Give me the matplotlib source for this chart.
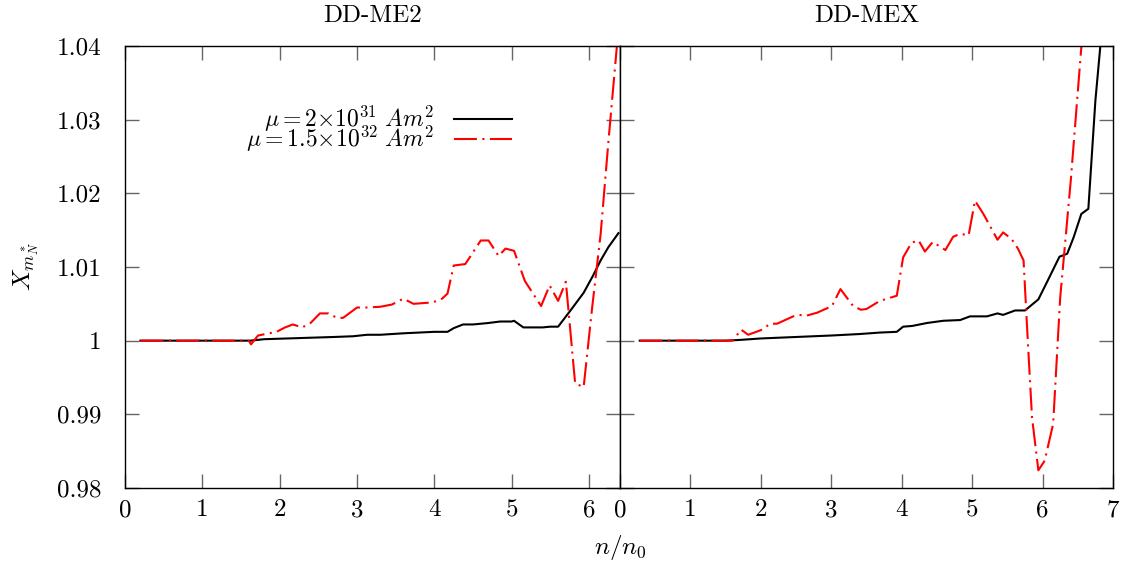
import matplotlib
matplotlib.use('Agg')
import matplotlib.pyplot as plt

plt.rcParams['font.family'] = 'serif'
plt.rcParams['font.serif'] = ['cmr10', 'DejaVu Serif']
plt.rcParams['mathtext.fontset'] = 'cm'
plt.rcParams['axes.unicode_minus'] = False

# DD-ME2, mu = 2e31
me2_x1 = [0.2, 0.5, 1.0, 1.5, 1.62, 1.8, 2.1, 2.4, 2.7, 2.95, 3.13, 3.3, 3.6, 3.8, 4.0,
          4.17, 4.25, 4.37, 4.5, 4.7, 4.85, 5.0, 5.03, 5.15, 5.3, 5.4, 5.5, 5.6, 5.76,
          5.93, 6.05, 6.15, 6.25, 6.38]
me2_y1 = [1, 1, 1, 1, 1, 1.0002, 1.0003, 1.0004, 1.0005, 1.0006, 1.0008, 1.0008, 1.001,
          1.0011, 1.0012, 1.0012, 1.0017, 1.0022, 1.0022, 1.0024, 1.0026, 1.0026, 1.0027,
          1.0018, 1.0018, 1.0018, 1.0019, 1.0019, 1.0041, 1.0065, 1.0088, 1.0109, 1.0127,
          1.0146]
# DD-ME2, mu = 1.5e32
me2_x2 = [0.2, 0.5, 1.0, 1.5, 1.6, 1.63, 1.72, 1.96, 2.07, 2.17, 2.29, 2.39, 2.52, 2.63,
          2.74, 2.82, 3.0, 3.13, 3.3, 3.45, 3.6, 3.73, 3.98, 4.1, 4.17, 4.25, 4.4, 4.5,
          4.6, 4.7, 4.83, 4.92, 5.03, 5.17, 5.38, 5.49, 5.6, 5.7, 5.82, 5.93, 6.04, 6.15,
          6.25, 6.36]
me2_y2 = [1, 1, 1, 1, 1, 0.9995, 1.0007, 1.0012, 1.0018, 1.0022, 1.0018, 1.0023, 1.0037,
          1.0037, 1.0031, 1.0031, 1.0045, 1.0045, 1.0046, 1.0049, 1.0057, 1.005, 1.0052,
          1.0057, 1.0064, 1.0102, 1.0104, 1.012, 1.0136, 1.0136, 1.0115, 1.0125, 1.0122,
          1.0081, 1.0047, 1.0075, 1.0054, 1.008, 0.9942, 0.9937, 1.0045, 1.0145, 1.027,
          1.04]

# DD-MEX, mu = 2e31
mex_x1 = [0.28, 0.5, 1.0, 1.5, 1.7, 2.0, 2.5, 3.0, 3.4, 3.69, 3.93, 4.02, 4.15, 4.36,
          4.59, 4.83, 4.97, 5.21, 5.36, 5.44, 5.61, 5.75, 5.94, 6.06, 6.24, 6.35, 6.44,
          6.55, 6.65, 6.75, 6.83]
mex_y1 = [1, 1, 1, 1, 1.0001, 1.0003, 1.0005, 1.0007, 1.0009, 1.0011, 1.0012, 1.0019,
          1.002, 1.0024, 1.0027, 1.0028, 1.0033, 1.0033, 1.0037, 1.0035, 1.0041, 1.0041,
          1.0056, 1.0079, 1.0114, 1.0118, 1.014, 1.0172, 1.0179, 1.0326, 1.041]
# DD-MEX, mu = 1.5e32
mex_x2 = [0.28, 0.5, 1.0, 1.5, 1.6, 1.72, 1.82, 2.02, 2.13, 2.23, 2.46, 2.53, 2.65, 2.8,
          3.01, 3.13, 3.31, 3.42, 3.5, 3.69, 3.93, 4.02, 4.14, 4.24, 4.33, 4.44, 4.62,
          4.73, 4.83, 4.95, 5.04, 5.16, 5.36, 5.44, 5.56, 5.65, 5.73, 5.78, 5.85, 5.94,
          6.03, 6.15, 6.25, 6.4, 6.56]
mex_y2 = [1, 1, 1, 1, 1.0, 1.0015, 1.0008, 1.0015, 1.0023, 1.0023, 1.0033, 1.0035,
          1.0034, 1.0038, 1.0047, 1.007, 1.0047, 1.0042, 1.0043, 1.0054, 1.0061, 1.0113,
          1.0133, 1.0136, 1.0121, 1.0134, 1.0123, 1.0141, 1.0145, 1.0143, 1.019, 1.0172,
          1.0137, 1.0147, 1.0138, 1.0125, 1.0109, 1.0018, 0.9896, 0.9824, 0.9837, 0.9887,
          1.0058, 1.0217, 1.041]

yticks = [0.98, 0.99, 1.0, 1.01, 1.02, 1.03, 1.04]
ytick_labels = ['0.98', '0.99', '1', '1.01', '1.02', '1.03', '1.04']
label1 = r'$\mu = 2{\times}10^{31}\ Am^2$'
label2 = r'$\mu = 1.5{\times}10^{32}\ Am^2$'

W, H = 1124, 567
fig = plt.figure(figsize=(W / 100, H / 100), dpi=100)
ax1 = fig.add_axes([125 / W, (H - 488) / H, 495 / W, 442 / H])
ax2 = fig.add_axes([620 / W, (H - 488) / H, 493 / W, 442 / H])

fs = 18
dash = (11, 2.6, 1, 2.6)
for ax, d, xmax in [(ax1, (me2_x1, me2_y1, me2_x2, me2_y2), 6.4),
                    (ax2, (mex_x1, mex_y1, mex_x2, mex_y2), 7)]:
    ax.plot(d[0], d[1], color='black', lw=1.5, label=label1)
    ax.plot(d[2], d[3], color='red', lw=1.5, dashes=dash, label=label2)
    ax.set_xlim(0, xmax)
    ax.set_ylim(0.98, 1.04)
    ax.set_yticks(yticks)
    ax.set_xticks(range(0, int(xmax) + 1))
    ax.tick_params(direction='in', length=10, width=1, color='0.4',
                   top=True, right=True, labelsize=fs)
    ax.tick_params(axis='x', pad=8)
    ax.tick_params(axis='y', pad=17)
    for s in ax.spines.values():
        s.set_linewidth(1)

ax1.set_yticklabels(ytick_labels)
ax2.set_yticklabels([])
ax1.set_title('DD-ME2', fontsize=fs, pad=17)
ax2.set_title('DD-MEX', fontsize=fs, pad=17)

ax1.legend(loc='upper right', bbox_to_anchor=(0.806, 0.896), frameon=False,
           markerfirst=False, fontsize=17, handlelength=2.45, handletextpad=0.85,
           labelspacing=-0.42, borderpad=0)

fig.text(26 / W, 1 - 267 / H, r'$X_{m^*_N}$', fontsize=fs, rotation=90,
         ha='center', va='center')
fig.text(620 / W, 1 - 548 / H, r'$n/n_0$', fontsize=fs, ha='center', va='center')

fig.savefig('out.png', dpi=100)
